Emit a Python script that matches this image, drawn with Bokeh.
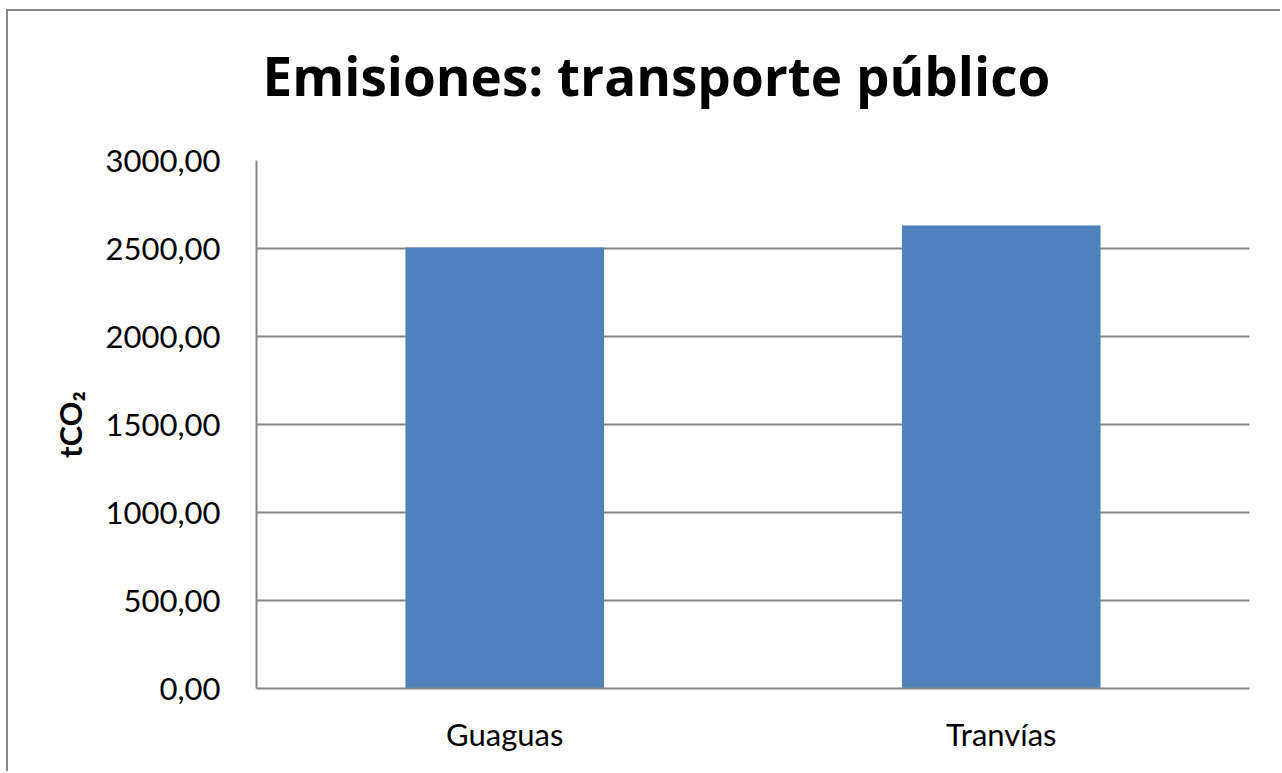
from bokeh.plotting import figure
from bokeh.models import CustomJSTickFormatter, FactorRange, Range1d, Title
from bokeh.embed import file_html
from bokeh.resources import INLINE

categories = ["Guaguas", "Tranvías"]
values = [2505, 2630]
y_ticks = [0, 500, 1000, 1500, 2000, 2500, 3000]
title_text = "Emisiones: transporte público"

GRAY = "#868686"
FONT = "Lato"

p = figure(
    x_range=FactorRange(*categories, range_padding=0),
    y_range=Range1d(0, 3000),
    width=1274, height=762,
    output_backend="svg", toolbar_location=None,
    min_border_left=248, min_border_right=33,
    min_border_top=149, min_border_bottom=85,
)
p.styles = {"margin-left": "6px", "margin-top": "9px",
            "border-left": f"2px solid {GRAY}", "border-top": f"2px solid {GRAY}"}

p.vbar(x=categories, top=values, width=0.4, fill_color="#4F81BD", line_color=None)

# spacer between the frame and the title
p.add_layout(Title(text=" ", text_font_size="10px", standoff=36), "above")
p.add_layout(Title(text=title_text, text_font="Open Sans", text_font_style="bold",
                   text_font_size="53px", text_color="black", align="left",
                   offset=6, standoff=0), "above")

p.outline_line_color = None
p.xgrid.grid_line_color = None
p.ygrid.grid_line_color = GRAY
p.ygrid.grid_line_width = 2
p.ygrid.ticker = y_ticks

p.yaxis.ticker = y_ticks
p.yaxis.formatter = CustomJSTickFormatter(code="return tick.toFixed(2).replace('.', ',');")
for ax in (p.xaxis[0], p.yaxis[0]):
    ax.axis_line_color = GRAY
    ax.axis_line_width = 2
    ax.major_tick_line_color = None
    ax.minor_tick_line_color = None
    ax.major_tick_out = 0
    ax.major_tick_in = 0
    ax.major_label_text_font = FONT
    ax.major_label_text_font_size = "31px"
    ax.major_label_text_color = "black"

p.yaxis.major_label_standoff = 36
p.xaxis.major_label_standoff = 26

p.yaxis.axis_label = "tCO₂"
p.yaxis.axis_label_text_font = FONT
p.yaxis.axis_label_text_font_style = "bold"
p.yaxis.axis_label_text_font_size = "31px"
p.yaxis.axis_label_text_color = "black"
p.yaxis.axis_label_standoff = 14

open("out.html", "w").write(file_html(p, INLINE))
